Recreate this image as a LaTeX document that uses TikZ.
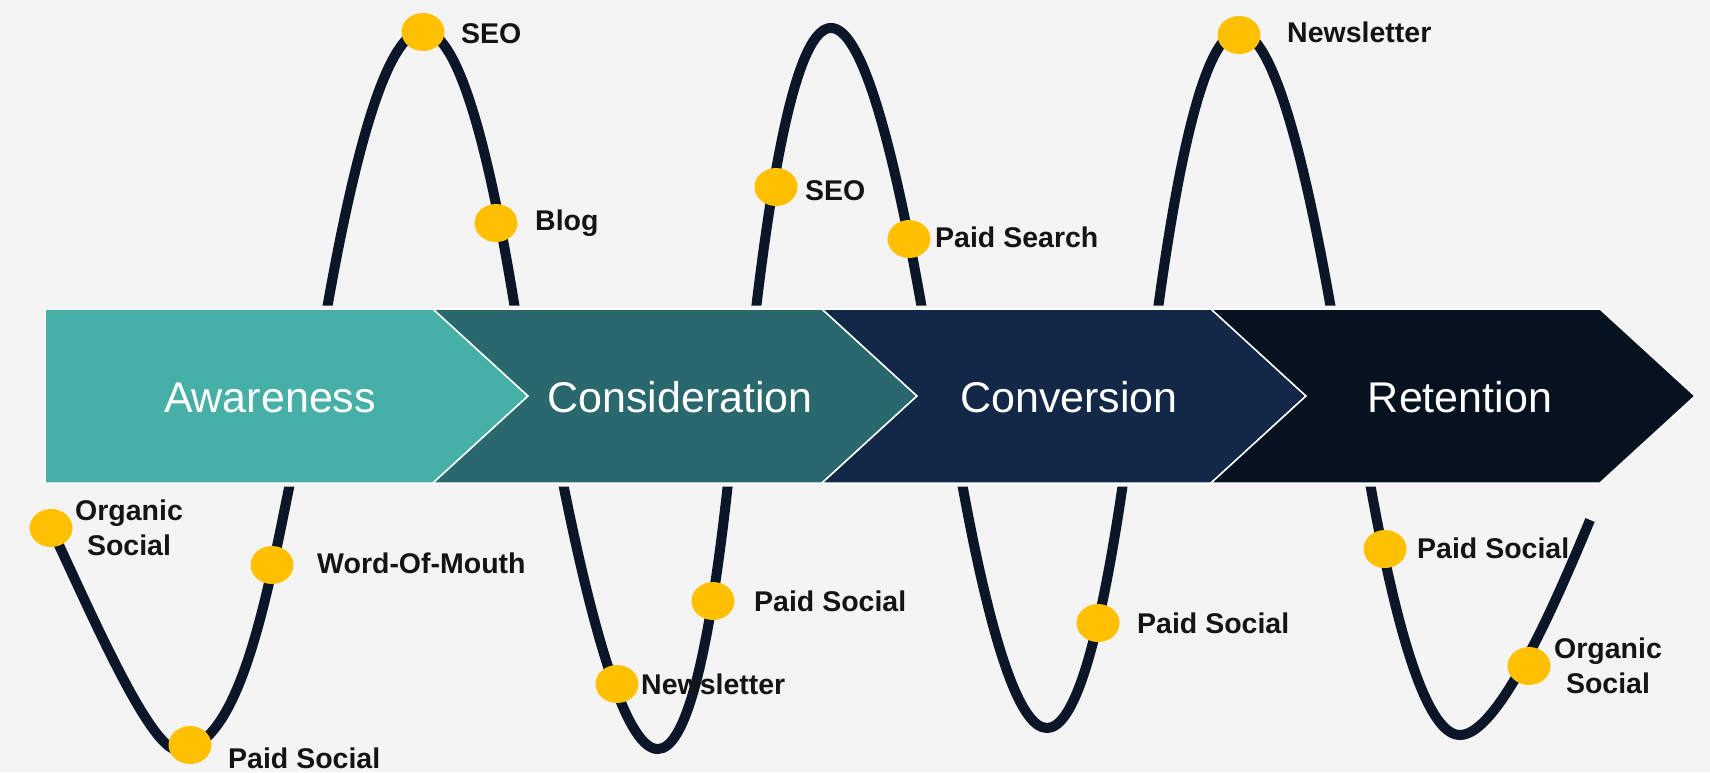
\documentclass[tikz,border=0pt]{standalone}
\usepackage{fontspec}
\setmainfont{Liberation Sans}
\usetikzlibrary{shapes.geometric}

\definecolor{bgcol}{HTML}{F4F4F4}
\definecolor{wavecol}{HTML}{0B1628}
\definecolor{dotcol}{HTML}{FFC000}
\definecolor{awcol}{HTML}{46AFA6}
\definecolor{cocol}{HTML}{29696D}
\definecolor{cvcol}{HTML}{132747}
\definecolor{recol}{HTML}{06121F}

\tikzset{
    dot/.style={ellipse,fill=dotcol,minimum width=43pt,minimum height=38pt,inner sep=0pt},
    lbl/.style={anchor=base west,inner sep=0pt,text=black!92,font=\fontsize{28.5}{34}\selectfont\bfseries},
    lblc/.style={lbl,anchor=base},
    stage/.style={anchor=base,inner sep=0pt,text=white,font=\fontsize{43}{50}\selectfont},
}

\begin{document}
\begin{tikzpicture}[x=1pt,y=-1pt]
    \fill[bgcol] (0,0) rectangle (1710,772);
    \useasboundingbox (0,0) rectangle (1710,772);

    % the wave, parabolic lobes joined under the bar
    \draw[wavecol,line width=10pt,line join=round]
        (51,528) .. controls (91,613) and (150,750) .. (178,750)
        .. controls (240,750) and (268,590) .. (290,483)
        -- (327,309) .. controls (392.3,-61.7) and (455,-61.7) .. (515,309)
        -- (563,483) .. controls (634.3,837.7) and (689.3,837.7) .. (728,483)
        -- (756,309) .. controls (800.7,-65.7) and (856,-65.7) .. (922,309)
        -- (962,483) .. controls (1021.7,809.7) and (1075.3,809.7) .. (1123,483)
        -- (1158,309) .. controls (1208.3,-60.3) and (1266,-60.3) .. (1331,309)
        -- (1370,483) .. controls (1400,651) and (1430,735) .. (1460,735)
        .. controls (1500,735) and (1560,592) .. (1590,520);

    % bar with a small gap round it
    \draw[bgcol,line width=7pt] (45,309) -- (1600,309) -- (1695,396) -- (1600,483) -- (45,483) -- cycle;
    \filldraw[fill=awcol,draw=white,line width=1.5pt] (45,309) -- (433,309) -- (528,396) -- (433,483) -- (45,483) -- cycle;
    \foreach \s/\col in {433/cocol,822/cvcol,1211/recol}{
        \filldraw[fill=\col,draw=white,line width=1.5pt] (\s,309) -- ++(389,0) -- ++(95,87) -- ++(-95,87) -- ++(-389,0) -- ++(95,-87) -- cycle;
    }
    \foreach \n/\x/\t in {aware/270/Awareness,consid/680/Consideration,convers/1069/Conversion,retain/1460/Retention}
        \node[stage] (\n) at (\x,412) {\t};

    % touch points
    \foreach \n/\x/\y in {os1/51/528,ps1/190/745,wom/272/565,seo1/423/32,blog/496/223,nl2/617/684,ps2/713/601,
        seo2/776/187,srch/909/239,ps3/1098/623,nl3/1239/35,ps4/1385/549,os4/1529/666}
        \node[dot] (\n) at (\x,\y) {};

    \foreach \n/\x/\y/\t in {ps1/228/768/Paid Social,wom/317/573/Word-Of-Mouth,seo1/461/43/SEO,blog/535/230/Blog,
        nl2/641/694/Newsletter,ps2/754/611/Paid Social,seo2/805/200/SEO,srch/935/247/Paid Search,
        ps3/1137/633/Paid Social,nl3/1287/42/Newsletter,ps4/1417/558/Paid Social}
        \node[lbl] (t\n) at (\x,\y) {\t};
    \node[lblc] (tos1a) at (129,520) {Organic};
    \node[lblc] (tos1b) at (129,555) {Social};
    \node[lblc] (tos4a) at (1608,658) {Organic};
    \node[lblc] (tos4b) at (1608,693) {Social};
\end{tikzpicture}
\end{document}
